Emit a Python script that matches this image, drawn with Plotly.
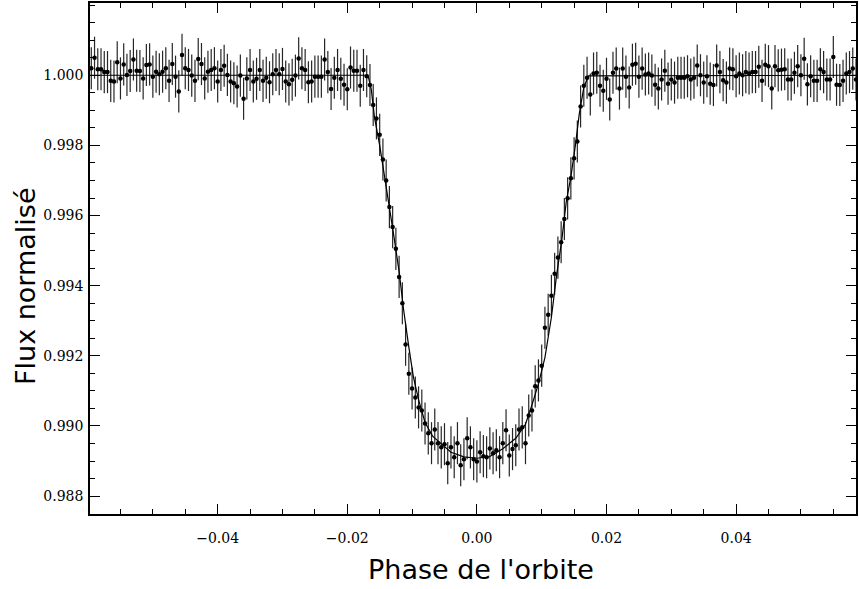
import plotly.graph_objects as go

# Orbital phase of each binned measurement
phase = [
    -0.0595, -0.0590, -0.0585, -0.0580, -0.0575, -0.0570, -0.0565, -0.0560, -0.0555, -0.0550,
    -0.0545, -0.0540, -0.0535, -0.0530, -0.0525, -0.0520, -0.0515, -0.0510, -0.0505, -0.0500,
    -0.0495, -0.0490, -0.0485, -0.0480, -0.0475, -0.0470, -0.0465, -0.0460, -0.0455, -0.0450,
    -0.0445, -0.0440, -0.0435, -0.0430, -0.0425, -0.0420, -0.0415, -0.0410, -0.0405, -0.0400,
    -0.0395, -0.0390, -0.0385, -0.0380, -0.0375, -0.0370, -0.0365, -0.0360, -0.0355, -0.0350,
    -0.0345, -0.0340, -0.0335, -0.0330, -0.0325, -0.0320, -0.0315, -0.0310, -0.0305, -0.0300,
    -0.0295, -0.0290, -0.0285, -0.0280, -0.0275, -0.0270, -0.0265, -0.0260, -0.0255, -0.0250,
    -0.0245, -0.0240, -0.0235, -0.0230, -0.0225, -0.0220, -0.0215, -0.0210, -0.0205, -0.0200,
    -0.0195, -0.0190, -0.0185, -0.0180, -0.0175, -0.0170, -0.0165, -0.0160, -0.0155, -0.0150,
    -0.0145, -0.0140, -0.0135, -0.0130, -0.0125, -0.0120, -0.0115, -0.0110, -0.0105, -0.0100,
    -0.0095, -0.0090, -0.0085, -0.0080, -0.0075, -0.0070, -0.0065, -0.0060, -0.0055, -0.0050,
    -0.0045, -0.0040, -0.0035, -0.0030, -0.0025, -0.0020, -0.0015, -0.0010, -0.0005, 0.0000,
    0.0005, 0.0010, 0.0015, 0.0020, 0.0025, 0.0030, 0.0035, 0.0040, 0.0045, 0.0050,
    0.0055, 0.0060, 0.0065, 0.0070, 0.0075, 0.0080, 0.0085, 0.0090, 0.0095, 0.0100,
    0.0105, 0.0110, 0.0115, 0.0120, 0.0125, 0.0130, 0.0135, 0.0140, 0.0145, 0.0150,
    0.0155, 0.0160, 0.0165, 0.0170, 0.0175, 0.0180, 0.0185, 0.0190, 0.0195, 0.0200,
    0.0205, 0.0210, 0.0215, 0.0220, 0.0225, 0.0230, 0.0235, 0.0240, 0.0245, 0.0250,
    0.0255, 0.0260, 0.0265, 0.0270, 0.0275, 0.0280, 0.0285, 0.0290, 0.0295, 0.0300,
    0.0305, 0.0310, 0.0315, 0.0320, 0.0325, 0.0330, 0.0335, 0.0340, 0.0345, 0.0350,
    0.0355, 0.0360, 0.0365, 0.0370, 0.0375, 0.0380, 0.0385, 0.0390, 0.0395, 0.0400,
    0.0405, 0.0410, 0.0415, 0.0420, 0.0425, 0.0430, 0.0435, 0.0440, 0.0445, 0.0450,
    0.0455, 0.0460, 0.0465, 0.0470, 0.0475, 0.0480, 0.0485, 0.0490, 0.0495, 0.0500,
    0.0505, 0.0510, 0.0515, 0.0520, 0.0525, 0.0530, 0.0535, 0.0540, 0.0545, 0.0550,
    0.0555, 0.0560, 0.0565, 0.0570, 0.0575, 0.0580, 0.0585,
]

# Normalised flux of each measurement
flux = [
    1.00020, 1.00050, 1.00017, 1.00017, 1.00009, 1.00009, 0.99984, 0.99982, 1.00037, 0.99991,
    1.00031, 1.00001, 1.00012, 1.00045, 1.00013, 1.00012, 0.99991, 1.00029, 1.00031, 0.99996,
    1.00010, 1.00003, 1.00010, 1.00020, 0.99984, 1.00032, 0.99996, 0.99954, 1.00058, 1.00020,
    1.00015, 0.99999, 0.99984, 1.00046, 1.00032, 0.99991, 1.00010, 1.00015, 1.00020, 0.99982,
    1.00015, 1.00027, 1.00001, 0.99982, 0.99977, 0.99968, 0.99999, 0.99933, 0.99991, 1.00015,
    0.99982, 0.99990, 1.00015, 0.99984, 0.99993, 0.99980, 1.00003, 1.00015, 1.00003, 1.00018,
    0.99982, 0.99974, 0.99987, 0.99999, 1.00048, 1.00020, 1.00015, 0.99980, 0.99982, 0.99996,
    0.99996, 0.99996, 1.00045, 1.00009, 0.99961, 0.99993, 1.00015, 0.99990, 0.99973, 0.99960,
    1.00022, 1.00013, 1.00013, 0.99970, 1.00015, 0.99997, 0.99972, 0.99915, 0.99877, 0.99830,
    0.99760, 0.99700, 0.99624, 0.99567, 0.99505, 0.99425, 0.99350, 0.99232, 0.99149, 0.99107,
    0.99081, 0.99053, 0.99044, 0.99007, 0.98979, 0.98951, 0.98990, 0.98951, 0.98939, 0.98948,
    0.98894, 0.98939, 0.98911, 0.98951, 0.98888, 0.98905, 0.98965, 0.98939, 0.98905, 0.98899,
    0.98925, 0.98914, 0.98911, 0.98936, 0.98922, 0.98931, 0.98911, 0.98951, 0.98988, 0.98916,
    0.98934, 0.98945, 0.98990, 0.98996, 0.98951, 0.99030, 0.99044, 0.99113, 0.99130, 0.99172,
    0.99280, 0.99317, 0.99371, 0.99434, 0.99480, 0.99524, 0.99590, 0.99649, 0.99706, 0.99763,
    0.99811, 0.99911, 0.99970, 0.99993, 0.99945, 1.00005, 1.00007, 0.99970, 0.99956, 0.99990,
    0.99931, 1.00007, 1.00019, 0.99962, 1.00019, 0.99996, 0.99965, 1.00030, 1.00033, 0.99996,
    1.00019, 1.00002, 1.00005, 0.99999, 0.99973, 0.99962, 0.99988, 1.00013, 0.99976, 0.99988,
    0.99979, 0.99993, 0.99993, 0.99993, 0.99997, 0.99988, 0.99993, 1.00028, 1.00000, 0.99979,
    0.99997, 0.99976, 0.99972, 1.00028, 1.00009, 0.99986, 0.99979, 1.00019, 1.00017, 0.99997,
    1.00005, 1.00000, 1.00009, 1.00005, 1.00009, 1.00009, 1.00024, 0.99984, 1.00030, 1.00026,
    0.99962, 1.00026, 1.00014, 1.00016, 1.00017, 0.99988, 0.99988, 1.00007, 1.00026, 1.00000,
    1.00047, 0.99974, 0.99997, 0.99984, 0.99984, 1.00017, 1.00009, 0.99988, 0.99988, 1.00052,
    0.99973, 0.99972, 0.99984, 1.00005, 1.00009, 1.00019, 0.99988,
]

# Typical 1-sigma uncertainty of each binned point
flux_err = 0.0006

# Transit model curve
model_phase = [
    -0.0600, -0.0168, -0.0163, -0.0158, -0.0150, -0.0142, -0.0135, -0.0128, -0.0120, -0.0113,
    -0.0105, -0.0098, -0.0090, -0.0080, -0.0068, -0.0055, -0.0040, -0.0020, 0.0000, 0.0020,
    0.0040, 0.0060, 0.0075, 0.0085, 0.0095, 0.0105, 0.0115, 0.0123, 0.0131, 0.0138,
    0.0145, 0.0152, 0.0158, 0.0165, 0.0172, 0.0600,
]
model_flux = [
    1.00000, 1.00000, 0.99960, 0.99880, 0.99800, 0.99710, 0.99625, 0.99540, 0.99440, 0.99330,
    0.99225, 0.99140, 0.99075, 0.99010, 0.98970, 0.98948, 0.98925, 0.98912, 0.98908, 0.98913,
    0.98935, 0.98965, 0.99005, 0.99060, 0.99120, 0.99195, 0.99310, 0.99430, 0.99530, 0.99640,
    0.99710, 0.99800, 0.99890, 0.99965, 0.99998, 1.00000,
]

x_ticks = [-0.04, -0.02, 0.00, 0.02, 0.04]
x_tick_labels = ["\u22120.04", "\u22120.02", "0.00", "0.02", "0.04"]
y_ticks = [0.988, 0.990, 0.992, 0.994, 0.996, 0.998, 1.000]
y_tick_labels = ["0.988", "0.990", "0.992", "0.994", "0.996", "0.998", "1.000"]

fig = go.Figure()

fig.add_trace(go.Scatter(
    x=model_phase, y=model_flux, mode="lines",
    line=dict(color="black", width=1.2), hoverinfo="skip", showlegend=False,
))

fig.add_trace(go.Scatter(
    x=phase, y=flux, mode="markers",
    marker=dict(color="black", size=4.5),
    error_y=dict(type="constant", value=flux_err, color="rgba(0,0,0,0.85)",
                 thickness=1.2, width=0),
    showlegend=False,
))

axis_common = dict(
    showline=True, linecolor="black", linewidth=1.5, mirror="ticks",
    ticks="inside", ticklen=10, tickwidth=1, tickcolor="black",
    showgrid=False, zeroline=False,
    tickfont=dict(family="DejaVu Serif", size=14, color="black"),
)

fig.update_xaxes(
    range=[-0.0597, 0.0585], tickvals=x_ticks, ticktext=x_tick_labels,
    minor=dict(dtick=0.005, tick0=0, ticks="inside", ticklen=5, tickcolor="black", tickwidth=1),
    ticklabelstandoff=10,
    **axis_common,
)
fig.update_yaxes(
    range=[0.98749, 1.00206], tickvals=y_ticks, ticktext=y_tick_labels,
    minor=dict(dtick=0.0005, tick0=0.988, ticks="inside", ticklen=5, tickcolor="black", tickwidth=1),
    ticklabelstandoff=2,
    **axis_common,
)

fig.update_layout(
    width=859, height=589,
    margin=dict(l=90, r=1, t=1, b=75),
    paper_bgcolor="white", plot_bgcolor="white",
    annotations=[
        dict(text="Phase de l'orbite", xref="paper", yref="paper", x=0.51, y=-0.109,
             xanchor="center", yanchor="middle", showarrow=False,
             font=dict(family="DejaVu Sans", size=27, color="black")),
        dict(text="Flux normalisé", xref="paper", yref="paper", x=-0.085, y=0.446,
             xanchor="center", yanchor="middle", showarrow=False, textangle=-90,
             font=dict(family="DejaVu Sans", size=27, color="black")),
    ],
)

fig.write_html(
    "out.html",
    config={"displayModeBar": False},
    post_script="document.body.style.margin='0';document.body.style.overflow='hidden';",
)
